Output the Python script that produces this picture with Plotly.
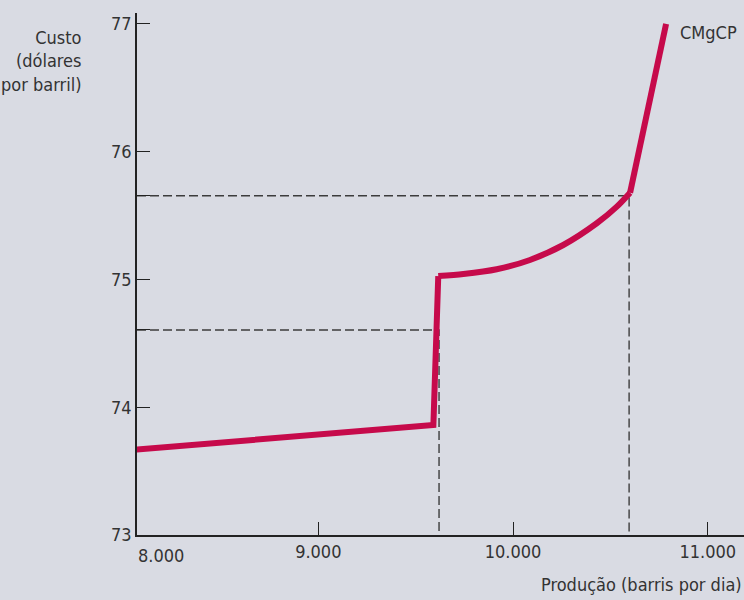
import plotly.graph_objects as go

# Curve (CMgCP)
seg_flat_x = [8038, 9591, 9616]
seg_flat_y = [73.665, 73.861, 75.027]
seg_curve_x = [9616, 9745, 9916, 10087, 10258, 10430, 10533, 10601]
seg_curve_y = [75.027, 75.043, 75.080, 75.153, 75.270, 75.440, 75.570, 75.679]
seg_steep_x = [10601, 10786]
seg_steep_y = [75.679, 77.0]

# Reference (dashed) levels
ref_low_x, ref_low_y = 9620, 74.605
ref_high_x, ref_high_y = 10596, 75.656

x_min, x_max = 8069, 11186
y_min, y_max = 73, 77.086

x_tick_vals = [9000, 10000, 11000]
x_tick_text = ["9.000", "10.000", "11.000"]
y_tick_vals = [73, 74, ref_low_y, 75, ref_high_y, 76, 77]
y_tick_text = ["73", "74", "", "75", "", "76", "77"]

RED = "#c60a4b"
DASH = "#3c3c3c"
TXT = "#333333"
FONT = "Liberation Sans Narrow, DejaVu Sans Condensed, sans-serif"
FS = 18

fig = go.Figure()

dash_style = dict(color=DASH, width=1.4, dash="9px,4px")
fig.add_trace(go.Scatter(x=[x_min, ref_low_x, ref_low_x], y=[ref_low_y, ref_low_y, y_min],
                         mode="lines", line=dash_style, hoverinfo="skip"))
fig.add_trace(go.Scatter(x=[x_min, ref_high_x, ref_high_x], y=[ref_high_y, ref_high_y, y_min],
                         mode="lines", line=dash_style, hoverinfo="skip"))

fig.add_trace(go.Scatter(x=seg_flat_x, y=seg_flat_y, mode="lines",
                         line=dict(color=RED, width=6)))
fig.add_trace(go.Scatter(x=seg_curve_x, y=seg_curve_y, mode="lines",
                         line=dict(color=RED, width=6, shape="spline", smoothing=0.8)))
fig.add_trace(go.Scatter(x=seg_steep_x, y=seg_steep_y, mode="lines",
                         line=dict(color=RED, width=6)))

axis_common = dict(showgrid=False, zeroline=False, showline=True, linecolor="#222",
                   linewidth=1.5, ticks="inside", ticklen=13, tickcolor="#222",
                   tickwidth=1.3, tickfont=dict(family=FONT, size=FS, color=TXT))

fig.update_xaxes(range=[x_min, x_max], tickvals=x_tick_vals, ticktext=x_tick_text,
                 **axis_common)
fig.update_yaxes(range=[y_min, y_max], tickvals=y_tick_vals, ticktext=y_tick_text,
                 **axis_common)

annots = [
    dict(text="Custo<br>(dólares<br>por barril)", xref="paper", yref="paper",
         x=(84 - 137) / 607, y=1 - (25 - 13) / 522, xanchor="right", yanchor="top",
         align="right", showarrow=False, font=dict(family=FONT, size=FS, color=TXT)),
    dict(text="Produção (barris por dia)", xref="paper", yref="paper",
         x=1, y=-(600 - 535 - 3) / 522, xanchor="right", yanchor="bottom",
         showarrow=False, font=dict(family=FONT, size=FS, color=TXT)),
    dict(text="8.000", xref="paper", yref="paper", x=(161 - 137) / 607,
         y=-(555 - 535) / 522, xanchor="center", yanchor="middle",
         showarrow=False, font=dict(family=FONT, size=FS, color=TXT)),
    dict(text="CMgCP", x=seg_steep_x[-1], y=seg_steep_y[-1], xanchor="left",
         yanchor="top", xshift=12, yshift=4, showarrow=False,
         font=dict(family=FONT, size=FS, color=TXT)),
]

fig.update_layout(
    width=744, height=600,
    margin=dict(l=137, r=0, t=13, b=65),
    paper_bgcolor="#d9dbe3", plot_bgcolor="#d9dbe3",
    showlegend=False, annotations=annots,
)

fig.write_html("out.html", config={"displayModeBar": False},
               post_script="document.body.style.margin='0';")
